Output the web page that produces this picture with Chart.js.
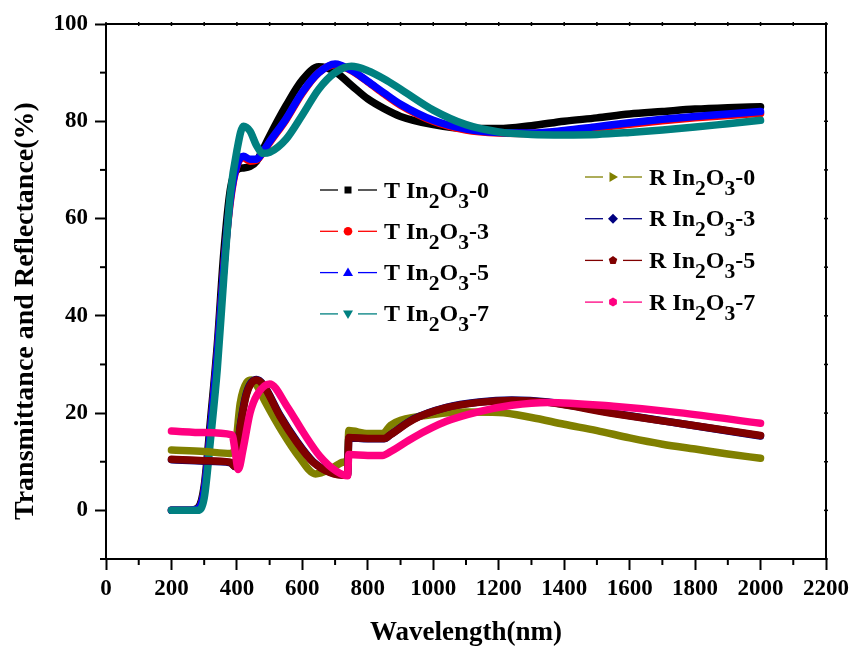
<!DOCTYPE html>
<html><head><meta charset="utf-8">
<script src="https://cdn.jsdelivr.net/npm/chart.js@4.4.1/dist/chart.umd.min.js"></script>
<style>html,body{margin:0;padding:0;background:#fff;}</style>
</head><body>
<canvas id="c" width="857" height="650"></canvas>
<script>
// ---------- data ----------
const xTitle = 'Wavelength(nm)';
const yTitle = 'Transmittance and Reflectance(%)';
const xMajorTicks = [0,200,400,600,800,1000,1200,1400,1600,1800,2000,2200];
const xMinorTicks = [100,300,500,700,900,1100,1300,1500,1700,1900,2100];
const yMajorTicks = [0,20,40,60,80,100];
const yMinorTicks = [-10,10,30,50,70,90];

// Transmittance (shared wavelength grid)
const wlT = [200,250,280,300,320,340,360,380,400,420,440,460,480,500,550,600,650,700,750,800,850,900,1000,1100,1200,1300,1400,1500,1600,1700,1800,1900,2000];
const tIn0 = [0,0,0.5,5,19,34,53,66,70,70.4,70.7,71.8,74.3,77,83.2,88.5,91.2,90.2,87.4,84.6,82.6,81,79.3,78.5,78.5,79.1,80,80.7,81.5,82,82.5,82.8,83];
const tIn3 = [0,0,0.3,4,17,32,50,63.5,70.8,72.5,71.8,72,73.6,75.6,80.3,85.8,90,91.6,90.4,88.1,85.6,83.3,80,78.2,77.6,77.5,77.9,78.6,79.4,80.1,80.7,81.2,81.6];
const tIn5 = [0,0,0.3,4,17,32,50,64,71,72.8,72.2,72.2,73.8,75.8,80.5,86,90,91.8,90.5,88.2,85.8,83.5,80.2,78.4,77.7,77.6,78.1,78.9,79.7,80.4,81,81.5,82];
const tIn7 = [0,0,0,2.5,15,29,48,65,74,79,78,75,73.4,73.6,76.3,81.3,86.6,90,91.3,90.4,88.7,86.6,82.3,79.3,77.8,77.3,77.2,77.3,77.7,78.2,78.8,79.5,80.2];

// Reflectance (own wavelength grids)
const wlR0 = [200,300,380,395,410,430,445,460,485,540,590,640,694,724,738,742,800,845,870,900,1000,1100,1200,1300,1400,1500,1600,1700,1800,1900,2000];
const rIn0 = [12.4,12.1,11.7,13,22,26.3,26.8,25.8,22.5,16,11,7.5,8.8,9.9,10.5,16.4,15.8,15.8,17.5,18.5,19.7,20.2,20.1,19.1,17.7,16.4,14.9,13.6,12.6,11.6,10.7];
const wlR3 = [200,300,380,394,410,430,460,480,532,583,633,684,738,742,800,850,870,940,1040,1140,1240,1350,1550,1750,2000];
const rIn3 = [10.4,10.1,9.8,9,17.3,24.3,26.9,25.9,19.5,14.2,10,7.9,7.3,14.9,14.7,14.7,15.6,18.8,21.2,22.3,22.7,22.3,20,17.9,15.3];
const wlR5 = [200,300,380,394,410,430,460,480,532,583,633,684,738,742,800,850,870,940,1040,1140,1240,1350,1550,1750,2000];
const rIn5 = [10.5,10.2,9.9,9,17,24,26.8,25.8,19.3,14,9.9,7.8,7.2,15,14.8,14.8,15.6,18.7,21.1,22.2,22.6,22.2,19.9,17.9,15.4];
const wlR7 = [200,300,385,395,404,420,440,462,500,553,603,654,705,738,742,800,845,870,940,1040,1140,1240,1350,1550,1750,2000];
const rIn7 = [16.3,16,15.5,12,8.4,13,20,23.8,26,21.4,16,11.1,8,7.1,11.5,11.3,11.3,12.1,15,18.3,20.3,21.6,22.2,21.4,20.1,17.9];

const seriesLabels = ['T In_2O_3-0','T In_2O_3-3','T In_2O_3-5','T In_2O_3-7','R In_2O_3-0','R In_2O_3-3','R In_2O_3-5','R In_2O_3-7'];
const seriesColors = ['#000000','#FF0000','#0000FF','#008080','#808000','#000080','#800000','#FF0080'];
const seriesMarkers = ['square','circle','triUp','triDown','triRight','diamond','pentagon','hexagon'];
const seriesX = [wlT, wlT, wlT, wlT, wlR0, wlR3, wlR5, wlR7];
const seriesY = [tIn0, tIn3, tIn5, tIn7, rIn0, rIn3, rIn5, rIn7];

// ---------- layout / style ----------
const FONT = '"Liberation Serif","Times New Roman",serif';
const legendLayout = {
  T: {x: 320, y0: 190, dy: 41.3},
  R: {x: 585, y0: 177, dy: 41.7}
};

function drawMarker(ctx, type, x, y, color) {
  ctx.save();
  ctx.fillStyle = color;
  ctx.beginPath();
  const r = 4.5;
  if (type === 'square') { ctx.rect(x - 3.5, y - 3.5, 7, 7); }
  else if (type === 'circle') { ctx.arc(x, y, 4.3, 0, Math.PI * 2); }
  else if (type === 'triUp') { ctx.moveTo(x, y - 5); ctx.lineTo(x + 5, y + 3.5); ctx.lineTo(x - 5, y + 3.5); ctx.closePath(); }
  else if (type === 'triDown') { ctx.moveTo(x, y + 5); ctx.lineTo(x + 5, y - 3.5); ctx.lineTo(x - 5, y - 3.5); ctx.closePath(); }
  else if (type === 'triRight') { ctx.moveTo(x + 5, y); ctx.lineTo(x - 3.5, y + 5); ctx.lineTo(x - 3.5, y - 5); ctx.closePath(); }
  else if (type === 'diamond') { ctx.moveTo(x, y - 5); ctx.lineTo(x + 5, y); ctx.lineTo(x, y + 5); ctx.lineTo(x - 5, y); ctx.closePath(); }
  else if (type === 'pentagon' || type === 'hexagon') {
    const n = type === 'pentagon' ? 5 : 6;
    for (let k = 0; k < n; k++) {
      const a = -Math.PI / 2 + k * 2 * Math.PI / n;
      const px = x + r * Math.cos(a), py = y + r * Math.sin(a);
      if (k === 0) ctx.moveTo(px, py); else ctx.lineTo(px, py);
    }
    ctx.closePath();
  }
  ctx.fill();
  ctx.restore();
}

function drawRich(ctx, text, x, y, size) {
  const parts = text.split(/_(\d)/);
  let cx = x;
  parts.forEach((p, i) => {
    const sub = i % 2 === 1;
    ctx.font = 'bold ' + (sub ? size * 0.9 : size) + 'px ' + FONT;
    ctx.fillText(p, cx, y + (sub ? size * 0.42 : 0));
    cx += ctx.measureText(p).width;
  });
}

const decorPlugin = {
  id: 'decor',
  afterDraw(chart) {
    const {ctx, chartArea: a, scales: {x, y}} = chart;
    ctx.save();
    ctx.strokeStyle = '#000';
    ctx.lineWidth = 2;
    const seg = (x1, y1, x2, y2) => { ctx.beginPath(); ctx.moveTo(x1, y1); ctx.lineTo(x2, y2); ctx.stroke(); };
    // frame top/right
    ctx.beginPath(); ctx.moveTo(a.left - 1, a.top); ctx.lineTo(a.right, a.top); ctx.lineTo(a.right, a.bottom + 1); ctx.stroke();
    // minor ticks
    xMinorTicks.forEach(v => { const px = x.getPixelForValue(v); seg(px, a.bottom, px, a.bottom + 6); });
    yMinorTicks.forEach(v => { const py = y.getPixelForValue(v); seg(a.left - 6, py, a.left, py); });
    // tiny ticks on top and right
    ctx.lineWidth = 1.5;
    xMajorTicks.concat(xMinorTicks).forEach(v => { const px = x.getPixelForValue(v); seg(px, a.top - 2, px, a.top + 2); });
    yMajorTicks.concat(yMinorTicks).forEach(v => { const py = y.getPixelForValue(v); seg(a.right - 2, py, a.right + 2, py); });
    // axis titles
    ctx.fillStyle = '#000';
    ctx.font = 'bold 27px ' + FONT;
    ctx.textAlign = 'center';
    ctx.textBaseline = 'alphabetic';
    ctx.fillText(xTitle, (a.left + a.right) / 2, 640);
    ctx.save();
    ctx.translate(33, 311);
    ctx.rotate(-Math.PI / 2);
    ctx.font = 'bold 28px ' + FONT;
    ctx.fillText(yTitle, 0, 0);
    ctx.restore();
    // legend
    ctx.textAlign = 'left';
    seriesLabels.forEach((lab, i) => {
      const grp = i < 4 ? legendLayout.T : legendLayout.R;
      const row = i % 4;
      const ly = grp.y0 + row * grp.dy;
      const lx = grp.x;
      ctx.strokeStyle = seriesColors[i];
      ctx.lineWidth = 1.3;
      seg(lx, ly, lx + 18, ly);
      seg(lx + 38, ly, lx + 57, ly);
      drawMarker(ctx, seriesMarkers[i], lx + 28, ly, seriesColors[i]);
      ctx.fillStyle = '#000';
      drawRich(ctx, lab, lx + 64, ly + 7.5, 24);
    });
    ctx.restore();
  }
};

const datasets = seriesLabels.map((lab, i) => ({
  label: lab.replace(/_/g, ''),
  data: seriesX[i].map((xv, k) => ({x: xv, y: seriesY[i][k]})),
  borderColor: seriesColors[i],
  backgroundColor: seriesColors[i],
  borderWidth: 7.5,
  pointRadius: 0,
  fill: false,
  cubicInterpolationMode: 'monotone',
  borderCapStyle: 'round',
  borderJoinStyle: 'round',
  order: 8 - i
}));

const tickFont = {family: FONT, size: 23, weight: 'bold'};

new Chart(document.getElementById('c'), {
  type: 'line',
  data: {datasets},
  options: {
    responsive: false,
    animation: false,
    layout: {padding: {top: 24, right: 31, bottom: 0, left: 0}},
    plugins: {legend: {display: false}, tooltip: {enabled: false}},
    scales: {
      x: {
        type: 'linear', min: 0, max: 2200,
        afterBuildTicks: s => { s.ticks = xMajorTicks.map(v => ({value: v})); },
        afterFit: s => { s.height = 91; },
        ticks: {font: tickFont, color: '#000', padding: 5, maxRotation: 0, autoSkip: false, callback: v => String(v)},
        grid: {drawOnChartArea: false, drawTicks: true, tickLength: 11, tickWidth: 2, tickColor: '#000'},
        border: {display: true, color: '#000', width: 2}
      },
      y: {
        type: 'linear', min: -10, max: 100,
        afterBuildTicks: s => { s.ticks = yMajorTicks.map(v => ({value: v})); },
        afterFit: s => { s.width = 106; },
        ticks: {font: tickFont, color: '#000', padding: 7, callback: v => String(v)},
        grid: {drawOnChartArea: false, drawTicks: true, tickLength: 11, tickWidth: 2, tickColor: '#000'},
        border: {display: true, color: '#000', width: 2}
      }
    }
  },
  plugins: [decorPlugin]
});
</script>
</body></html>
